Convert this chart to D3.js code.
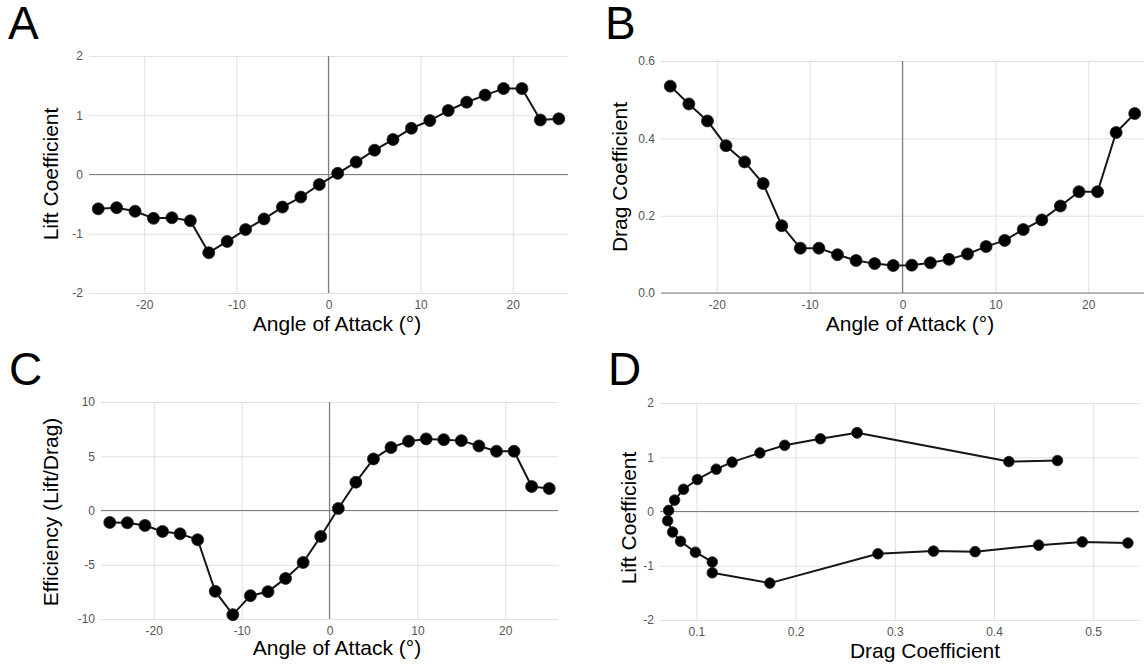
<!DOCTYPE html>
<html>
<head>
<meta charset="utf-8">
<script src="https://cdn.jsdelivr.net/npm/d3@7"></script>
<style>
  html, body { margin: 0; padding: 0; background: #fff; }
  svg { display: block; font-family: "Liberation Sans", Arial, sans-serif; }
</style>
</head>
<body>
<div id="chart"></div>
<script>
//data, one point per angle of attack
let angles = [-25, -23, -21, -19, -17, -15, -13, -11, -9, -7, -5, -3, -1, 1, 3, 5, 7, 9, 11, 13, 15, 17, 19, 21, 23, 25];
let liftCoef = [-0.58, -0.56, -0.62, -0.74, -0.73, -0.78, -1.32, -1.13, -0.93, -0.75, -0.55, -0.38, -0.17, 0.02, 0.21, 0.41, 0.59, 0.78, 0.91, 1.08, 1.22, 1.34, 1.45, 1.45, 0.92, 0.94];
let dragCoef = [0.535, 0.489, 0.445, 0.381, 0.339, 0.283, 0.174, 0.116, 0.116, 0.099, 0.084, 0.076, 0.071, 0.072, 0.078, 0.087, 0.101, 0.120, 0.136, 0.164, 0.189, 0.225, 0.262, 0.262, 0.415, 0.464];
let efficiency = [-1.10, -1.13, -1.38, -1.93, -2.15, -2.70, -7.45, -9.60, -7.85, -7.48, -6.26, -4.79, -2.39, 0.18, 2.61, 4.75, 5.80, 6.38, 6.60, 6.53, 6.44, 5.95, 5.46, 5.46, 2.21, 2.02];

//tick labels
let angleTicks = [-20, -10, 0, 10, 20];
let liftTicks = [-2, -1, 0, 1, 2];
let dragTicks = [0, 0.2, 0.4, 0.6];
let effTicks = [-10, -5, 0, 5, 10];
let dragAxisTicks = [0.1, 0.2, 0.3, 0.4, 0.5];

//dimensions of svg
let w = 1146;
let h = 668;

let svg = d3.select('#chart').
append('svg').
attr('width', w).
attr('height', h);

let intFmt = d => String(d);
let oneFmt = d => d.toFixed(1);

//layout of the four panels
let panels = [
{
  letter: 'A', lx: 8, ly: 39,
  left: 89, right: 568, top: 56, bottom: 293,
  xDomain: [-26, 26], yDomain: [-2, 2],
  xTicks: angleTicks, yTicks: liftTicks, xFmt: intFmt, yFmt: intFmt,
  xs: angles, ys: liftCoef,
  xTitle: 'Angle of Attack (°)', xtx: 337, xty: 331,
  yTitle: 'Lift Coefficient', ytx: 58, yty: 174,
  zeroX: true, zeroY: true, r: 6 },
{
  letter: 'B', lx: 605, ly: 39,
  left: 661, right: 1144, top: 61, bottom: 293,
  xDomain: [-26, 26], yDomain: [0, 0.6],
  xTicks: angleTicks, yTicks: dragTicks, xFmt: intFmt, yFmt: oneFmt,
  xs: angles, ys: dragCoef,
  xTitle: 'Angle of Attack (°)', xtx: 910, xty: 331,
  yTitle: 'Drag Coefficient', ytx: 627, yty: 177,
  zeroX: true, zeroY: true, r: 6 },
{
  letter: 'C', lx: 9, ly: 385,
  left: 101, right: 558, top: 402, bottom: 619,
  xDomain: [-26, 26], yDomain: [-10, 10],
  xTicks: angleTicks, yTicks: effTicks, xFmt: intFmt, yFmt: intFmt,
  xs: angles, ys: efficiency,
  xTitle: 'Angle of Attack (°)', xtx: 337, xty: 655,
  yTitle: 'Efficiency (Lift/Drag)', ytx: 58, yty: 512,
  zeroX: true, zeroY: true, r: 6 },
{
  letter: 'D', lx: 608, ly: 385,
  left: 660, right: 1139, top: 403, bottom: 620,
  xDomain: [0.0633, 0.5462], yDomain: [-2, 2],
  xTicks: dragAxisTicks, yTicks: liftTicks, xFmt: oneFmt, yFmt: intFmt,
  xs: dragCoef, ys: liftCoef,
  xTitle: 'Drag Coefficient', xtx: 925, xty: 658,
  yTitle: 'Lift Coefficient', ytx: 636, yty: 518,
  zeroX: false, zeroY: true, r: 5.3 }];


panels.forEach(p => {
  let g = svg.append('g');

  let xScale = d3.scaleLinear().
  domain(p.xDomain).
  range([p.left, p.right]);

  let yScale = d3.scaleLinear().
  domain(p.yDomain).
  range([p.bottom, p.top]);

  //grid
  g.append('g').
  attr('transform', 'translate(0,' + p.bottom + ')').
  call(d3.axisBottom(xScale).tickValues(p.xTicks).tickSize(-(p.bottom - p.top)).tickFormat('')).
  call(a => a.select('.domain').remove()).
  selectAll('line').
  attr('stroke', '#e0e0e0');

  g.append('g').
  attr('transform', 'translate(' + p.left + ',0)').
  call(d3.axisLeft(yScale).tickValues(p.yTicks).tickSize(-(p.right - p.left)).tickFormat('')).
  call(a => a.select('.domain').remove()).
  selectAll('line').
  attr('stroke', '#e0e0e0');

  //zero lines
  if (p.zeroY) {
    g.append('line').
    attr('x1', p.left).
    attr('x2', p.right).
    attr('y1', yScale(0)).
    attr('y2', yScale(0)).
    attr('stroke', '#7d7d7d').
    attr('stroke-width', 1.2);
  }
  if (p.zeroX) {
    g.append('line').
    attr('x1', xScale(0)).
    attr('x2', xScale(0)).
    attr('y1', p.top).
    attr('y2', p.bottom).
    attr('stroke', '#7d7d7d').
    attr('stroke-width', 1.2);
  }

  //tick labels
  let xAxis = g.append('g').
  attr('transform', 'translate(0,' + p.bottom + ')').
  call(d3.axisBottom(xScale).tickValues(p.xTicks).tickSize(0).tickPadding(7.5).tickFormat(p.xFmt));
  xAxis.select('.domain').remove();
  xAxis.selectAll('text').
  attr('fill', '#555').
  style('font-size', '12px').
  style('font-family', '"Liberation Sans", Arial, sans-serif');

  let yAxis = g.append('g').
  attr('transform', 'translate(' + p.left + ',0)').
  call(d3.axisLeft(yScale).tickValues(p.yTicks).tickSize(0).tickPadding(6).tickFormat(p.yFmt));
  yAxis.select('.domain').remove();
  yAxis.selectAll('text').
  attr('fill', '#555').
  style('font-size', '12px').
  style('font-family', '"Liberation Sans", Arial, sans-serif');

  //series
  let pts = p.xs.map((d, i) => [d, p.ys[i]]);
  let line = d3.line().
  x(d => xScale(d[0])).
  y(d => yScale(d[1]));

  g.append('path').
  datum(pts).
  attr('d', line).
  attr('fill', 'none').
  attr('stroke', '#151515').
  attr('stroke-width', 2).
  attr('stroke-linejoin', 'round');

  g.selectAll('circle').
  data(pts).
  enter().
  append('circle').
  attr('cx', d => xScale(d[0])).
  attr('cy', d => yScale(d[1])).
  attr('r', p.r).
  attr('fill', '#000').
  attr('stroke', '#222').
  attr('stroke-width', 0.8);

  //titles
  g.append('text').
  text(p.xTitle).
  attr('x', p.xtx).
  attr('y', p.xty).
  attr('text-anchor', 'middle').
  style('font-size', '21px').
  attr('fill', '#000');

  g.append('text').
  text(p.yTitle).
  attr('transform', 'translate(' + p.ytx + ',' + p.yty + ') rotate(-90)').
  attr('text-anchor', 'middle').
  style('font-size', '21px').
  attr('fill', '#000');

  //panel letter
  g.append('text').
  text(p.letter).
  attr('x', p.lx).
  attr('y', p.ly).
  style('font-size', '46px').
  attr('fill', '#000');
});
</script>
</body>
</html>
